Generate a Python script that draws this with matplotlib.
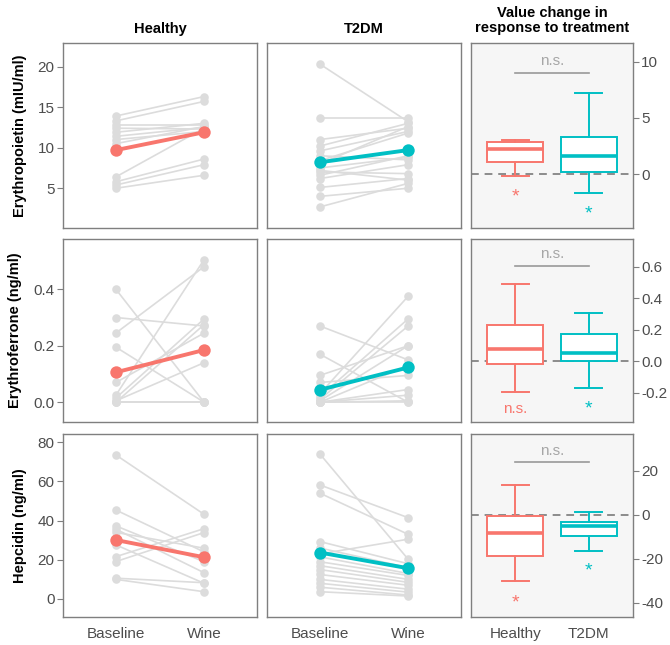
import numpy as np
import matplotlib
matplotlib.use('Agg')
import matplotlib.pyplot as plt

plt.rcParams['font.family'] = ['Liberation Sans', 'DejaVu Sans']

# ---- data ----
groups = ['Healthy', 'T2DM']
time_labels = ['Baseline', 'Wine']
row_labels = ['Erythropoietin (mIU/ml)', 'Erythroferrone (ng/ml)', 'Hepcidin (ng/ml)']

# Erythropoietin
epo_h_base = [13.9, 13.3, 12.8, 12.4, 11.9, 11.4, 11.0, 10.5, 6.4, 5.8, 5.4, 5.0]
epo_h_wine = [16.3, 15.7, 12.8, 12.3, 13.0, 12.5, 12.0, 12.6, 12.4, 8.6, 7.9, 6.6]
epo_t_base = [20.3, 13.6, 11.0, 10.2, 9.6, 9.0, 8.4, 8.0, 7.5, 7.2, 7.0, 6.6, 6.2, 5.1, 4.0, 2.7]
epo_t_wine = [13.2, 13.6, 12.4, 13.0, 12.0, 8.5, 11.8, 12.6, 8.8, 6.0, 6.8, 9.0, 7.9, 6.2, 5.0, 5.6]
# Erythroferrone
efn_h_base = [0.40, 0.30, 0.245, 0.195, 0.07, 0.025, 0.015, 0.005, 0.0, 0.0, 0.0]
efn_h_wine = [0.0, 0.27, 0.48, 0.0, 0.245, 0.505, 0.295, 0.14, 0.275, 0.0, 0.0]
efn_t_base = [0.27, 0.17, 0.095, 0.07, 0.03, 0.02, 0.01, 0.005, 0.0, 0.0, 0.0, 0.0, 0.0]
efn_t_wine = [0.15, 0.0, 0.2, 0.095, 0.375, 0.295, 0.27, 0.2, 0.045, 0.025, 0.0, 0.005, 0.13]
# Hepcidin
hep_h_base = [73.5, 45.4, 37.3, 35.6, 34.0, 27.6, 21.6, 19.1, 10.6, 10.0]
hep_h_wine = [43.2, 24.0, 19.0, 13.4, 25.9, 8.0, 35.9, 33.9, 8.3, 3.7]
hep_t_base = [74.0, 58.2, 54.0, 29.3, 26.0, 23.0, 21.5, 19.0, 17.0, 15.0, 12.5, 10.0, 8.0, 6.0, 3.7]
hep_t_wine = [20.3, 41.5, 33.0, 18.0, 16.0, 30.5, 13.0, 12.0, 10.0, 8.5, 7.0, 5.0, 3.5, 2.0, 1.5]

# group means (baseline, wine)
epo_means = {'Healthy': [9.7, 11.9], 'T2DM': [8.2, 9.7]}
efn_means = {'Healthy': [0.106, 0.185], 'T2DM': [0.044, 0.123]}
hep_means = {'Healthy': [30.1, 21.3], 'T2DM': [23.7, 15.7]}

# change boxplots: whislo, q1, med, q3, whishi
epo_box = {'Healthy': [-0.18, 1.04, 2.23, 2.88, 3.03], 'T2DM': [-1.66, 0.2, 1.6, 3.32, 7.19]}
efn_box = {'Healthy': [-0.193, -0.019, 0.078, 0.228, 0.488], 'T2DM': [-0.167, 0.002, 0.051, 0.173, 0.308]}
hep_box = {'Healthy': [-30.3, -18.9, -8.15, -0.45, 13.6], 'T2DM': [-16.6, -9.8, -5.0, -3.2, 1.2]}

# significance labels under boxes and between groups
sig_within = [['*', '*'], ['n.s.', '*'], ['*', '*']]
sig_between = ['n.s.', 'n.s.', 'n.s.']

# ---- layout / styling ----
col_h = '#F8766D'
col_t = '#00BFC4'
grey_line = '#dcdcdc'
edge = '#7f7f7f'
tick_col = '#4d4d4d'

rows = [
    dict(pairs={'Healthy': (epo_h_base, epo_h_wine), 'T2DM': (epo_t_base, epo_t_wine)},
         means=epo_means, box=epo_box, ylim=(0.1, 22.9), yticks=[5, 10, 15, 20],
         blim=(-4.8, 11.66), bticks=[0, 5, 10], bfmt='{:g}',
         ns_line=9.02, ns_text=10.1, sig_y=[-1.63, -3.14]),
    dict(pairs={'Healthy': (efn_h_base, efn_h_wine), 'T2DM': (efn_t_base, efn_t_wine)},
         means=efn_means, box=efn_box, ylim=(-0.07, 0.578), yticks=[0.0, 0.2, 0.4],
         blim=(-0.385, 0.776), bticks=[-0.2, 0.0, 0.2, 0.4, 0.6], bfmt='{:.1f}',
         ns_line=0.604, ns_text=0.678, sig_y=[-0.30, -0.27]),
    dict(pairs={'Healthy': (hep_h_base, hep_h_wine), 'T2DM': (hep_t_base, hep_t_wine)},
         means=hep_means, box=hep_box, ylim=(-9.2, 84.2), yticks=[0, 20, 40, 60, 80],
         blim=(-46.5, 36.6), bticks=[-40, -20, 0, 20], bfmt='{:g}',
         ns_line=23.8, ns_text=29.1, sig_y=[-38.0, -23.3]),
]

W, H = 670, 645
fig = plt.figure(figsize=(W / 100, H / 100), dpi=100)

col_x = [(63, 257), (267, 461), (471, 633)]
row_y = [(43, 228), (239, 422), (434, 617)]


def px_axes(x0, x1, y0, y1):
    return fig.add_axes([x0 / W, 1 - y1 / H, (x1 - x0) / W, (y1 - y0) / H])


def style(ax):
    for s in ax.spines.values():
        s.set_color(edge)
        s.set_linewidth(1.0)
    ax.tick_params(colors=tick_col, labelcolor=tick_col, labelsize=11,
                   length=4, width=0.8, pad=2)
    ax.tick_params(axis='y', colors=edge, labelcolor=tick_col)


for r, row in enumerate(rows):
    y0, y1 = row_y[r]
    for c, g in enumerate(groups):
        ax = px_axes(col_x[c][0], col_x[c][1], y0, y1)
        base, wine = row['pairs'][g]
        for b, w in zip(base, wine):
            ax.plot([1, 2], [b, w], color=grey_line, lw=1.2, zorder=1)
            ax.scatter([1, 2], [b, w], s=38, color=grey_line, lw=0, zorder=2)
        m = row['means'][g]
        col = col_h if g == 'Healthy' else col_t
        ax.plot([1, 2], m, color=col, lw=2.8, zorder=3)
        ax.scatter([1, 2], m, s=80, color=col, lw=0, zorder=4)
        ax.set_xlim(0.4, 2.6)
        ax.set_ylim(*row['ylim'])
        style(ax)
        if c == 0:
            ax.set_yticks(row['yticks'])
            ax.set_yticklabels(['{:g}'.format(v) if r != 1 else '{:.1f}'.format(v) for v in row['yticks']])
            ax.set_ylabel(row_labels[r], fontsize=10.5, fontweight='bold', labelpad=8)
        else:
            ax.set_yticks([])
        if r == 2:
            ax.set_xticks([1, 2])
            ax.set_xticklabels(time_labels)
            ax.tick_params(axis='x', colors=edge, labelcolor=tick_col, length=0, pad=7)
        else:
            ax.set_xticks([])
        if r == 0:
            ax.set_title(g, fontsize=10.5, fontweight='bold', pad=7)

    # change boxplots
    ax = px_axes(col_x[2][0], col_x[2][1], y0, y1)
    ax.set_facecolor('#f6f6f6')
    ax.axhline(0, color='#8c8c8c', lw=1.4, ls=(0, (4, 3)), zorder=1)
    stats = []
    for g in groups:
        lo, q1, med, q3, hi = row['box'][g]
        stats.append(dict(whislo=lo, q1=q1, med=med, q3=q3, whishi=hi, fliers=[]))
    for i, g in enumerate(groups):
        col = col_h if g == 'Healthy' else col_t
        ax.bxp([stats[i]], positions=[i + 1], widths=0.76, capwidths=0.37,
               showfliers=False, patch_artist=True,
               boxprops=dict(facecolor='white', edgecolor=col, lw=1.4),
               whiskerprops=dict(color=col, lw=1.4),
               capprops=dict(color=col, lw=1.4),
               medianprops=dict(color=col, lw=2.6), zorder=2)
        s = sig_within[r][i]
        if s == '*':
            # '*' glyph sits high in its box, nudge it down
            ax.annotate(s, (i + 1, row['sig_y'][i]), xytext=(0, -5),
                        textcoords='offset pixels', color=col, fontsize=14,
                        ha='center', va='center')
        else:
            ax.text(i + 1, row['sig_y'][i], s, color=col, fontsize=11,
                    ha='center', va='center')
    ax.plot([1, 2], [row['ns_line']] * 2, color='#999999', lw=1.2)
    ax.text(1.5, row['ns_text'], sig_between[r], color='#a6a6a6', fontsize=11,
            ha='center', va='center')
    ax.set_xlim(0.4, 2.6)
    ax.set_ylim(*row['blim'])
    style(ax)
    ax.yaxis.tick_right()
    ax.set_yticks(row['bticks'])
    ax.set_yticklabels([row['bfmt'].format(v) for v in row['bticks']])
    if r == 2:
        ax.set_xticks([1, 2])
        ax.set_xticklabels(groups)
        ax.tick_params(axis='x', length=0, pad=7)
    else:
        ax.set_xticks([])
    if r == 0:
        ax.set_title('Value change in\nresponse to treatment', fontsize=10.5,
                     fontweight='bold', pad=8, linespacing=1.1)

fig.savefig('out.png', dpi=100)
